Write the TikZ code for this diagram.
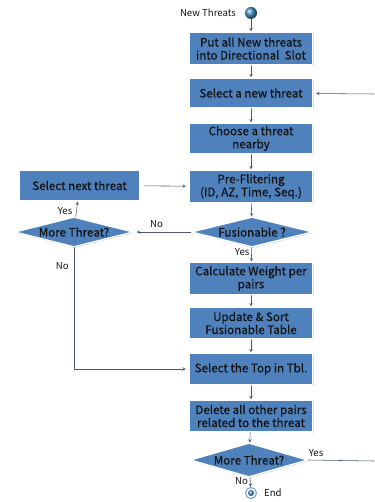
\documentclass[tikz,border=0pt]{standalone}
\usepackage{fontspec}
\setmainfont{Noto Sans CJK KR}
\newfontfamily\boxfont{Noto Sans CJK KR}[FakeBold=0.7]
\usetikzlibrary{shapes.geometric,shadows}

\definecolor{boxblue}{HTML}{4F81BD}
\definecolor{linegray}{HTML}{4A5670}
\definecolor{txt}{HTML}{141414}

\tikzset{
  stepbox/.style={rectangle,fill=boxblue,draw=white,line width=1.2pt,
    minimum width=123pt,minimum height=32pt,inner sep=1pt,align=center,
    text=txt,font=\boxfont\fontsize{11.6}{13}\selectfont,
    drop shadow={opacity=0.25,shadow xshift=1pt,shadow yshift=-1.2pt}},
  decide/.style={diamond,fill=boxblue,draw=white,line width=1.2pt,
    inner sep=0pt,
    drop shadow={opacity=0.25,shadow xshift=1pt,shadow yshift=-1.2pt}},
  dtext/.style={text=txt,font=\boxfont\fontsize{11.6}{13}\selectfont,inner sep=0pt},
  lbl/.style={text=txt,font=\fontsize{9.6}{10}\selectfont,inner sep=1pt},
  flow/.style={->,>=stealth,draw=linegray,line width=0.55pt}
}

\begin{document}
\begin{tikzpicture}[x=1pt,y=-1pt,line cap=round,line join=round]
  \useasboundingbox (0,0) rectangle (374,502);
  % start / end
  \node[circle,minimum size=12pt,inner sep=0pt,shading=ball,ball color=boxblue!85!cyan] (start) at (251,13) {};
  \node[lbl,anchor=east] (newlbl) at (237,13) {New Threats};
  % main column
  \node[stepbox,minimum height=33pt] (put) at (251,48.5) {Put all New threats\\into Directional\ \ Slot};
  \node[stepbox,minimum height=30pt] (selnew) at (251,93) {Select a new threat};
  \node[stepbox,minimum height=31pt] (choose) at (251,138.5) {Choose a threat\\nearby};
  \node[stepbox,minimum height=33pt] (prefil) at (251,186.5) {Pre-Flitering\\(ID, AZ, Time, Seq.)};
  \node[decide,minimum width=121pt,minimum height=30pt,
    label={[dtext]center:Fusionable ?}] (fusion) at (252,232) {};
  \node[stepbox,minimum height=33pt] (calc) at (251,278.5) {Calculate Weight per\\pairs};
  \node[stepbox,minimum height=32pt] (update) at (251,323) {Update \& Sort\\Fusionable Table};
  \node[stepbox,minimum height=32pt] (seltop) at (251,369) {Select the Top in Tbl.};
  \node[stepbox,minimum height=32pt] (delete) at (251,416) {Delete all other pairs\\related to the threat};
  \node[decide,minimum width=117pt,minimum height=34pt,
    label={[dtext]center:More Threat?}] (more) at (249,460) {};
  % left branch
  \node[stepbox,minimum width=121pt,minimum height=31pt] (selnext) at (79.5,185.5) {Select next threat};
  \node[decide,minimum width=118pt,minimum height=30pt,
    label={[dtext]center:More Threat?}] (moreL) at (74,232) {};
  % end
  \node[circle,minimum size=11pt,inner sep=0pt,draw=boxblue!70,line width=1.2pt,fill=white] (endc) at (251,493) {};
  \node[circle,minimum size=6pt,inner sep=0pt,shading=ball,ball color=boxblue!85!cyan] at (endc) {};
  \node[lbl,anchor=west] (endlbl) at (263,493) {End};
  \coordinate (rin) at (374,94);
  \coordinate (rout) at (374,461);
  % connectors
  \draw[flow] (start) -- (put);
  \draw[flow] (put) -- (selnew);
  \draw[flow] (selnew) -- (choose);
  \draw[flow] (choose) -- (prefil);
  \draw[flow] (prefil) -- (fusion);
  \draw[flow] (fusion) -- node[lbl,left=1pt,pos=0.3] {Yes} (calc);
  \draw[flow] (calc) -- (update);
  \draw[flow] (update) -- (seltop);
  \draw[flow] (seltop) -- (delete);
  \draw[flow] (delete) -- (more);
  \draw[flow] (more) -- node[lbl,left=1pt,pos=0.35] {No} (endc);
  \draw[flow,shorten <=4pt,shorten >=3pt] (selnext) -- (prefil);
  \draw[flow,shorten >=3pt] (fusion) -- node[lbl,above=3pt,pos=0.6] {No} (moreL);
  \draw[flow] (moreL) -- node[lbl,left=3pt,pos=0.4] {Yes} (selnext);
  \draw[flow,shorten >=3pt] (moreL.south) -- node[lbl,left=4pt,pos=0.15] {No} (moreL.south |- seltop) -- (seltop);
  \draw[flow,shorten >=3pt] (rin) -- (selnew);
  \draw[draw=linegray,line width=0.55pt] (more.east) -- node[lbl,above=2pt,pos=0.12] {Yes} (rout);
\end{tikzpicture}
\end{document}
